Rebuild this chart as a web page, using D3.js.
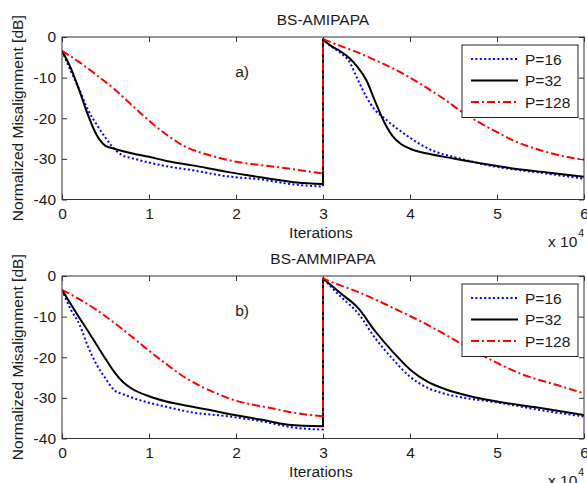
<!DOCTYPE html>
<html>
<head>
<meta charset="utf-8">
<script src="https://cdn.jsdelivr.net/npm/d3@7"></script>
<style>
  html, body { margin: 0; padding: 0; background: #fff; }
  svg text { font-family: Arial, "Liberation Sans", Helvetica, sans-serif; fill: #1a1a1a; }
</style>
</head>
<body>
<svg id="chart" width="587" height="483"></svg>
<script>
// ---- Data (iterations in units of 10^4, misalignment in dB) ----
const xTicks = [0, 1, 2, 3, 4, 5, 6];
const yTicks = [0, -10, -20, -30, -40];
const seriesNames = ["P=16", "P=32", "P=128"];
const panelTitles = ["BS-AMIPAPA", "BS-AMMIPAPA"];
const panelTags = ["a)", "b)"];

// Panel a) BS-AMIPAPA
const a16x = [0,0.1,0.2,0.3,0.4,0.5,0.6,0.7,0.8,1.0,1.2,1.5,1.9,2.3,2.7,3.0, 3.0,3.1,3.2,3.3,3.4,3.5,3.6,3.7,3.8,3.9,4.0,4.1,4.3,4.5,4.9,5.3,5.6,6.0];
const a16y = [-3.4,-8.3,-13.0,-18.0,-21.6,-24.8,-27.5,-29.2,-29.8,-30.9,-31.8,-32.8,-34.3,-35.1,-36.4,-36.8, -0.6,-2.4,-3.9,-6.0,-10.5,-14.8,-18.0,-19.9,-21.7,-23.3,-24.8,-26.2,-28.3,-29.5,-31.6,-32.9,-33.7,-34.9];
const a32x = [0,0.1,0.2,0.3,0.4,0.5,0.6,0.8,1.0,1.2,1.5,1.9,2.3,2.7,3.0, 3.0,3.1,3.2,3.3,3.4,3.5,3.6,3.7,3.8,3.9,4.0,4.2,4.5,4.9,5.3,5.6,6.0];
const a32y = [-3.4,-7.6,-13.2,-19.3,-24.2,-26.8,-27.5,-28.6,-29.5,-30.5,-31.6,-33.2,-34.6,-35.8,-36.2, -0.6,-2.3,-3.5,-5.1,-7.5,-10.7,-15.9,-20.8,-24.4,-26.4,-27.5,-28.7,-29.9,-31.4,-32.7,-33.4,-34.4];
const a128x = [0,0.2,0.4,0.6,0.8,1.0,1.2,1.4,1.6,1.8,2.0,2.2,2.5,2.8,3.0, 3.0,3.2,3.4,3.6,3.8,4.0,4.2,4.4,4.6,4.8,5.0,5.2,5.4,5.6,5.8,6.0];
const a128y = [-3.4,-6.2,-9.4,-12.8,-16.7,-20.6,-24.0,-26.8,-28.5,-29.7,-30.7,-31.3,-32.1,-33.0,-33.6, -0.5,-2.2,-3.8,-5.7,-7.7,-10.0,-12.6,-15.4,-18.5,-21.1,-23.4,-25.6,-27.2,-28.5,-29.5,-30.2];

// Panel b) BS-AMMIPAPA
const b16x = [0,0.1,0.2,0.3,0.4,0.5,0.6,0.7,0.8,1.0,1.2,1.5,1.9,2.3,2.7,3.0, 3.0,3.2,3.4,3.6,3.8,4.0,4.2,4.4,4.6,5.0,5.5,6.0];
const b16y = [-3.4,-8.2,-11.9,-17.4,-21.9,-25.2,-28.1,-29.1,-29.9,-31.2,-32.2,-33.6,-34.5,-35.8,-37.4,-37.8, -0.6,-5.0,-9.1,-15.3,-20.4,-24.8,-27.5,-29.0,-29.9,-31.1,-33.0,-34.6];
const b32x = [0,0.1,0.2,0.3,0.4,0.5,0.6,0.7,0.8,1.0,1.2,1.5,1.7,2.0,2.3,2.6,3.0, 3.0,3.2,3.4,3.6,3.8,4.0,4.2,4.4,4.6,5.0,5.5,6.0];
const b32y = [-3.4,-6.9,-10.3,-13.6,-17.0,-20.4,-23.6,-26.1,-27.7,-29.6,-30.9,-32.2,-33.0,-34.3,-35.4,-36.6,-37.0, -0.6,-4.2,-7.8,-13.6,-18.6,-23.0,-26.0,-27.8,-29.1,-30.9,-32.5,-34.2];
const b128x = [0,0.2,0.4,0.6,0.8,1.0,1.2,1.4,1.6,1.8,2.0,2.2,2.4,2.6,2.8,3.0, 3.0,3.2,3.4,3.8,4.2,4.6,5.0,5.3,5.7,6.0];
const b128y = [-3.4,-5.7,-8.4,-11.5,-14.9,-18.4,-21.7,-24.8,-27.2,-29.1,-30.7,-31.7,-32.5,-33.4,-34.1,-34.5, -0.6,-2.3,-3.9,-7.8,-12.0,-16.8,-21.4,-24.3,-26.9,-28.9];

const panelsData = [
  [[a16x, a16y], [a32x, a32y], [a128x, a128y]],
  [[b16x, b16y], [b32x, b32y], [b128x, b128y]]
];

// ---- Styles ----
const styles = [
  { color: "#0000ff", dash: "2,2.4", width: 2 },
  { color: "#000000", dash: null, width: 2 },
  { color: "#ff0000", dash: "8,3,2,3", width: 2 }
];

const svg = d3.select("#chart");
const left = 62, right = 584;
const panelTops = [37, 276];
const panelHeight = 162.5;
const FS = 15.5;

const x = d3.scaleLinear().domain([0, 6]).range([left, right]);

panelsData.forEach((series, pi) => {
  const top = panelTops[pi];
  const bottom = top + panelHeight;
  const y = d3.scaleLinear().domain([-40, 0]).range([bottom, top]);
  const g = svg.append("g");

  const clipId = "clip" + pi;
  svg.append("clipPath").attr("id", clipId)
    .append("rect").attr("x", left).attr("y", top - 2).attr("width", right - left).attr("height", panelHeight + 4);

  const lineGen = d3.line().x(d => x(d[0])).y(d => y(d[1])).curve(d3.curveMonotoneX);
  const plotG = g.append("g").attr("clip-path", `url(#${clipId})`);
  series.forEach((s, si) => {
    const pts = s[0].map((v, i) => [v, s[1][i]]);
    const splitIdx = pts.findIndex((p, i) => i > 0 && p[0] === pts[i - 1][0]);
    let d;
    if (splitIdx > 0) {
      const seg1 = pts.slice(0, splitIdx);
      const seg2 = pts.slice(splitIdx);
      d = lineGen(seg1) + lineGen(seg2).replace(/^M/, "L");
    } else d = lineGen(pts);
    const st = styles[si];
    plotG.append("path").attr("d", d)
      .attr("fill", "none").attr("stroke", st.color)
      .attr("stroke-width", st.width)
      .attr("stroke-dasharray", st.dash)
      .attr("stroke-linejoin", "round");
  });

  const axisColor = "#333";
  const tl = 5;
  const axB = d3.axisBottom(x).tickValues(xTicks).tickSize(-tl).tickPadding(8).tickFormat(d3.format("d"));
  const axT = d3.axisTop(x).tickValues(xTicks).tickSize(-tl).tickFormat("");
  const axL = d3.axisLeft(y).tickValues(yTicks).tickSize(-tl).tickPadding(6).tickFormat(d => String(d));
  const axR = d3.axisRight(y).tickValues(yTicks).tickSize(-tl).tickFormat("");

  const gB = g.append("g").attr("transform", `translate(0,${bottom})`).call(axB);
  const gT = g.append("g").attr("transform", `translate(0,${top})`).call(axT);
  const gL = g.append("g").attr("transform", `translate(${left},0)`).call(axL);
  const gR = g.append("g").attr("transform", `translate(${right},0)`).call(axR);
  [gB, gT, gL, gR].forEach(a => {
    a.select(".domain").remove();
    a.selectAll(".tick line").attr("stroke", axisColor);
    a.selectAll("text").attr("font-size", FS).attr("font-family", "Arial, 'Liberation Sans', sans-serif").attr("fill", "#1a1a1a");
  });
  g.append("rect").attr("x", left).attr("y", top).attr("width", right - left).attr("height", panelHeight)
    .attr("fill", "none").attr("stroke", axisColor).attr("stroke-width", 1);

  g.append("text").attr("x", (left + right) / 2).attr("y", top - 12)
    .attr("text-anchor", "middle").attr("font-size", FS).text(panelTitles[pi]);
  g.append("text").attr("x", 321).attr("y", bottom + 38)
    .attr("text-anchor", "middle").attr("font-size", FS).text("Iterations");
  const ex = g.append("text").attr("x", 548).attr("y", bottom + 47).attr("font-size", FS);
  ex.append("tspan").text("x 10");
  ex.append("tspan").attr("dy", -10).attr("dx", 1).attr("font-size", 10.5).text("4");
  g.append("text").attr("transform", `translate(23,${top + panelHeight / 2}) rotate(-90)`)
    .attr("text-anchor", "middle").attr("font-size", FS).text("Normalized Misalignment [dB]");
  g.append("text").attr("x", x(1.99)).attr("y", y(-9.9)).attr("font-size", FS).text(panelTags[pi]);

  const lg = g.append("g").attr("transform", `translate(462,${top + 8})`);
  lg.append("rect").attr("width", 116).attr("height", 72.5)
    .attr("fill", "#fff").attr("stroke", "#222").attr("stroke-width", 1);
  seriesNames.forEach((name, si) => {
    const cy = 14 + si * 21.5;
    const st = styles[si];
    lg.append("line").attr("x1", 9).attr("x2", 56).attr("y1", cy).attr("y2", cy)
      .attr("stroke", st.color).attr("stroke-width", st.width).attr("stroke-dasharray", st.dash);
    lg.append("text").attr("x", 63).attr("y", cy + 5.5).attr("font-size", FS).text(name);
  });
});
</script>
</body>
</html>
